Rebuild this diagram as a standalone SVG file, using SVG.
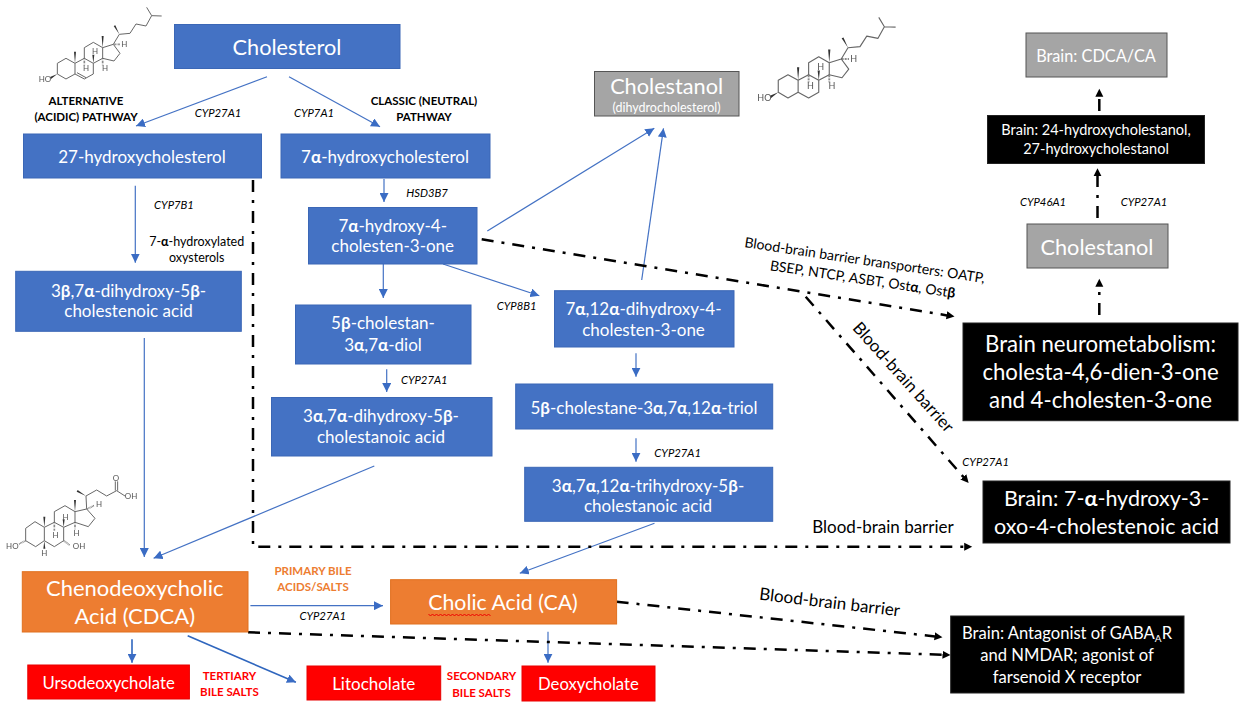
<svg xmlns="http://www.w3.org/2000/svg" xmlns:xlink="http://www.w3.org/1999/xlink" width="1248" height="706" viewBox="0 0 1248 706">
<style>
text{font-family:"Lato","Noto Sans",sans-serif;text-anchor:middle}
.w{fill:#fff}
.k{fill:#000}
.b{fill:#4472C4;stroke:#3B67B6;stroke-width:1}
.o{fill:#ED7D31;stroke:#E0701F;stroke-width:1}
.r{fill:#FF0000;stroke:#E80000;stroke-width:1}
.n{fill:#000;stroke:#222;stroke-width:1}
.g{fill:#A5A5A5;stroke:#555;stroke-width:1}
.m{font-size:17px}
.l{font-size:21.700px}
.e{font-size:11.300px;font-style:italic}
.h{font-size:11.500px;font-weight:700}
.t{font-size:12.500px}
.tr{font-size:14px}
.bb{font-size:17px}
.x{font-size:22px}
.y{font-size:21.500px}
.z{font-size:16.600px}
.gr{font-weight:700}
.bl{fill:none;stroke:#4472C4;stroke-width:1.2}
.bt{fill:none;stroke:#2F66BE;stroke-width:1.6}
.dd{fill:none;stroke:#000;stroke-width:2.500;stroke-dasharray:12 8 3 8}
.mol{fill:none;stroke:#666;stroke-width:3;stroke-linejoin:round}
.mt{font-size:24px;fill:#555}
.wd{fill:#333;stroke:none}
.hs{stroke:#666;stroke-width:5;stroke-dasharray:2 2;fill:none}
.soft{filter:url(#soft)}
</style>
<defs>
<filter id="soft" x="-5%" y="-5%" width="110%" height="110%"><feGaussianBlur stdDeviation="0.800"/></filter>
<marker id="ab" markerUnits="userSpaceOnUse" markerWidth="10" markerHeight="9" refX="9" refY="4.500" orient="auto"><path d="M0 0L9 4.500L0 9Z" fill="#3A6CC4"/></marker>
<marker id="ak" markerUnits="userSpaceOnUse" markerWidth="10" markerHeight="9" refX="0.500" refY="4.500" orient="auto"><path d="M0 0.500L8 4.500L0 8.500Z" fill="#000"/></marker>
<g id="steroid">
<path class="mol" d="M82 190L108 175L135 190L135 222L108 237L82 222ZM135 190L163 175L190 190L190 222L163 237L135 222M163 175L163 143L190 127L218 143L218 175L190 190M218 143L250 133L270 160L252 183L218 175M250 133L268 103L300 100L318 72L348 78L365 47L395 48M365 47L350 22"/>
<path class="wd" d="M135 190L132 155L138 155ZM218 143L215 108L221 108ZM82 222L60 231L63 237ZM190 190L187 164L193 164ZM268 103L256 76L251 78Z"/>
<path class="hs" d="M163 175V196M218 175V196M252 133H272"/>
<text class="mt" x="45" y="246">HO</text>
<text class="mt" x="283" y="140">H</text>
<text class="mt" x="195" y="163">H</text>
<text class="mt" x="168" y="214">H</text>
<text class="mt" x="225" y="214">H</text>
</g>
</defs>

<g id="connectors">
<path class="bl" marker-end="url(#ab)" d="M267 76.700L136 126"/>
<path class="bl" marker-end="url(#ab)" d="M289 76.700L380 126.700"/>
<path class="bl" marker-end="url(#ab)" d="M135.300 185.700V262.700"/>
<path class="bl" marker-end="url(#ab)" d="M384 179V202"/>
<path class="bl" marker-end="url(#ab)" d="M383.300 264V298"/>
<path class="bl" marker-end="url(#ab)" d="M386.700 369.300V392"/>
<path class="bl" marker-end="url(#ab)" d="M443 264L539.300 295.700"/>
<path class="bl" marker-end="url(#ab)" d="M636 353.300V376.700"/>
<path class="bl" marker-end="url(#ab)" d="M636 438.300V461.700"/>
<path class="bl" marker-end="url(#ab)" d="M374.300 466L153.600 558.300"/>
<path class="bl" marker-end="url(#ab)" d="M144.300 338V557"/>
<path class="bl" marker-end="url(#ab)" d="M654.500 523.300L519.800 573.300"/>
<path class="bl" marker-end="url(#ab)" d="M250.400 605.700H383"/>
<path class="bt" marker-end="url(#ab)" d="M132 639.300V662.700"/>
<path class="bt" marker-end="url(#ab)" d="M187.700 635.700L295.900 682.300"/>
<path class="bl" marker-end="url(#ab)" d="M548 631.700V662.700"/>
<path class="bl" marker-end="url(#ab)" d="M487.300 231L654.300 128.300"/>
<path class="bl" marker-end="url(#ab)" d="M641.700 280L663.500 128.300"/>
<path class="dd" marker-end="url(#ak)" d="M481.700 239.300L947.100 315.400"/>
<path class="dd" marker-end="url(#ak)" d="M805.700 296.700L963.700 477.300"/>
<path class="dd" marker-end="url(#ak)" d="M253 180V546.700H964.700"/>
<path class="dd" marker-end="url(#ak)" d="M616.600 601.700L935 636.400"/>
<path class="dd" marker-end="url(#ak)" d="M248 632.300L943 654.700"/>
<path class="dd" marker-end="url(#ak)" d="M1099.300 111V96.300"/>
<path class="dd" marker-end="url(#ak)" d="M1097.500 218V175.700"/>
<path class="dd" marker-end="url(#ak)" d="M1099.300 315V286.300"/>
</g>

<g id="mol-cholesterol" class="soft" transform="translate(30,0) scale(.3333)">
<use href="#steroid" xlink:href="#steroid"/>
<path class="mol" d="M141 218L168 233"/>
</g>
<g id="mol-cholestanol" class="soft" transform="translate(747.500,9.100) scale(.375)">
<use href="#steroid" xlink:href="#steroid"/>
</g>
<g id="mol-cdca" class="soft" transform="translate(5,470) scale(.3333)">
<path class="mol" d="M62 175L90 155L118 172L118 212L92 230L62 212ZM118 172L148 157L176 172L176 212L148 230L118 212M148 157L148 125L180 107L210 125L210 157L176 172M210 125L245 117L270 145L250 170L210 157M245 117L243 78L275 60L305 78L335 62L360 78M331 62V34M338 62V34"/>
<path class="wd" d="M118 172L115 140L121 140ZM210 125L207 90L213 90ZM176 172L173 148L179 148ZM118 212L115 236L121 236ZM243 78L218 60L215 65Z"/>
<path class="hs" d="M62 212L42 222M176 212L195 226M148 157V182M210 157V178M247 117L268 106"/>
<text class="mt" x="22" y="238">HO</text>
<text class="mt" x="222" y="238">OH</text>
<text class="mt" x="333" y="32">O</text>
<text class="mt" x="378" y="88">OH</text>
<text class="mt" x="282" y="111">H</text>
<text class="mt" x="182" y="150">H</text>
<text class="mt" x="152" y="203">H</text>
<text class="mt" x="215" y="198">H</text>
<text class="mt" x="118" y="258">H</text>
</g>

<g id="n-cholesterol"><rect class="b" x="174.500" y="24.500" width="225.500" height="44"/><text class="w l" x="287" y="55">Cholesterol</text></g>
<g id="n-27oh"><rect class="b" x="23.500" y="134" width="238" height="44"/><text class="w m" x="142" y="163">27-hydroxycholesterol</text></g>
<g id="n-7aoh"><rect class="b" x="281" y="134" width="209" height="44"/><text class="w m" x="385" y="163">7<tspan class="gr">α</tspan>-hydroxycholesterol</text></g>
<g id="n-7a4"><rect class="b" x="308.500" y="207.500" width="168.500" height="56.500"/><text class="w m" x="392.700" y="231.700">7<tspan class="gr">α</tspan>-hydroxy-4-</text><text class="w m" x="392.700" y="252.300">cholesten-3-one</text></g>
<g id="n-5bdiol"><rect class="b" x="295.500" y="305" width="175.500" height="59"/><text class="w m" x="383" y="329">5<tspan class="gr">β</tspan>-cholestan-</text><text class="w m" x="383" y="350.700">3<tspan class="gr">α</tspan>,7<tspan class="gr">α</tspan>-diol</text></g>
<g id="n-3a7a"><rect class="b" x="271.500" y="397.500" width="220.500" height="58.500"/><text class="w m" x="381" y="422">3<tspan class="gr">α</tspan>,7<tspan class="gr">α</tspan>-dihydroxy-5<tspan class="gr">β</tspan>-</text><text class="w m" x="381" y="443">cholestanoic acid</text></g>
<g id="n-3b7a"><rect class="b" x="15.700" y="271.300" width="225.600" height="60"/><text class="w m" x="128.500" y="296.700">3<tspan class="gr">β</tspan>,7<tspan class="gr">α</tspan>-dihydroxy-5<tspan class="gr">β</tspan>-</text><text class="w m" x="128.500" y="317">cholestenoic acid</text></g>
<g id="n-7a12a"><rect class="b" x="554.500" y="290.700" width="179.500" height="56.300"/><text class="w m" x="643.500" y="315">7<tspan class="gr">α</tspan>,12<tspan class="gr">α</tspan>-dihydroxy-4-</text><text class="w m" x="643.500" y="335.700">cholesten-3-one</text></g>
<g id="n-triol"><rect class="b" x="515.700" y="384" width="257" height="45"/><text class="w m" x="644" y="414">5<tspan class="gr">β</tspan>-cholestane-3<tspan class="gr">α</tspan>,7<tspan class="gr">α</tspan>,12<tspan class="gr">α</tspan>-triol</text></g>
<g id="n-3a7a12a"><rect class="b" x="524.700" y="467.300" width="248" height="54"/><text class="w m" x="648" y="491.700">3<tspan class="gr">α</tspan>,7<tspan class="gr">α</tspan>,12<tspan class="gr">α</tspan>-trihydroxy-5<tspan class="gr">β</tspan>-</text><text class="w m" x="648" y="511.700">cholestanoic acid</text></g>
<g id="n-cholestanol1"><rect class="g" x="594.500" y="71.500" width="144.500" height="44.500"/><text class="w l" x="666.600" y="94">Cholestanol</text><text class="w" style="font-size:12.500px" x="666.600" y="111.700">(dihydrocholesterol)</text></g>
<g id="n-cdca-ca-brain"><rect class="g" x="1026" y="33" width="141" height="44"/><text class="w" style="font-size:16.300px" x="1096" y="62.300">Brain: CDCA/CA</text></g>
<g id="n-24oh"><rect class="n" x="987.500" y="115.500" width="217" height="48"/><text class="w" style="font-size:14.500px" x="1096" y="135">Brain: 24-hydroxycholestanol,</text><text class="w" style="font-size:14.500px" x="1096" y="154.300">27-hydroxycholestanol</text></g>
<g id="n-cholestanol2"><rect class="g" x="1027" y="224" width="141" height="44"/><text class="w l" x="1097" y="255">Cholestanol</text></g>
<g id="n-neuro"><rect class="n" x="963" y="323" width="275" height="97.700"/><text class="w" style="font-size:22.200px" x="1100.500" y="352">Brain neurometabolism:</text><text class="w" style="font-size:22.200px" x="1100.500" y="379.500">cholesta-4,6-dien-3-one</text><text class="w" style="font-size:22.200px" x="1100.500" y="407.500">and 4-cholesten-3-one</text></g>
<g id="n-7aoxo"><rect class="n" x="983" y="481" width="247" height="62"/><text class="w y" x="1106.600" y="505.700">Brain: 7-<tspan class="gr">α</tspan>-hydroxy-3-</text><text class="w y" x="1106.600" y="534">oxo-4-cholestenoic acid</text></g>
<g id="n-antagonist"><rect class="n" x="950.700" y="616" width="233.300" height="77"/><text class="w z" x="1067" y="639">Brain: Antagonist of GABA<tspan style="font-size:10px" dy="3">A</tspan><tspan dy="-3">R</tspan></text><text class="w z" x="1067" y="660.700">and NMDAR; agonist of</text><text class="w z" x="1067" y="683">farsenoid X receptor</text></g>
<g id="n-cdca"><rect class="o" x="22.300" y="571.700" width="225.700" height="60.300"/><text class="w x" x="134.700" y="596">Chenodeoxycholic</text><text class="w x" x="134.700" y="624">Acid (CDCA)</text></g>
<g id="n-ca"><rect class="o" x="390.600" y="579.700" width="226" height="44.300"/><text class="w" style="font-size:21.300px" x="503" y="610">Cholic Acid (CA)</text><polyline points="428.500,614 430.500,616 432.500,614 434.500,616 436.500,614 438.500,616 440.500,614 442.500,616 444.500,614 446.500,616 448.500,614 450.500,616 452.500,614 454.500,616 456.500,614 458.500,616 460.500,614 462.500,616 464.500,614 466.500,616 468.500,614 470.500,616 472.500,614 474.500,616 476.500,614 478.500,616 480.500,614 482.500,616 484.500,614 486.500,616 488.500,614 490.500,616" fill="none" stroke="#E00" stroke-width="1"/></g>
<g id="n-urso"><rect class="r" x="27.800" y="665" width="161.600" height="34"/><text class="w" style="font-size:16.700px" x="108.600" y="689.300">Ursodeoxycholate</text></g>
<g id="n-lito"><rect class="r" x="307" y="666" width="133.700" height="34"/><text class="w m" x="373.700" y="690">Litocholate</text></g>
<g id="n-deoxy"><rect class="r" x="522" y="666" width="133" height="35"/><text class="w" style="font-size:16.700px" x="588.400" y="690">Deoxycholate</text></g>

<g id="labels">
<text class="k h" x="86" y="105">ALTERNATIVE</text><text class="k h" x="86" y="121">(ACIDIC) PATHWAY</text>
<text class="k h" x="424" y="105">CLASSIC (NEUTRAL)</text><text class="k h" x="424" y="121">PATHWAY</text>
<text class="k e" x="218" y="117">CYP27A1</text>
<text class="k e" x="314" y="117">CYP7A1</text>
<text class="k e" x="174" y="209">CYP7B1</text>
<text class="k t" x="196.700" y="246">7-<tspan class="gr">α</tspan>-hydroxylated</text><text class="k t" x="196.700" y="261.700">oxysterols</text>
<text class="k e" x="427" y="197">HSD3B7</text>
<text class="k e" x="516.700" y="310">CYP8B1</text>
<text class="k e" x="424.300" y="384">CYP27A1</text>
<text class="k e" x="677.700" y="457">CYP27A1</text>
<text class="k e" x="1043" y="206">CYP46A1</text>
<text class="k e" x="1144" y="206">CYP27A1</text>
<text class="k e" x="985.700" y="466">CYP27A1</text>
<text class="k e" x="322.800" y="620">CYP27A1</text>
<text class="k tr" transform="translate(864,265) rotate(8.500)" x="0" y="0">Blood-brain barrier bransporters: OATP,</text>
<text class="k tr" transform="translate(862,284) rotate(8.500)" x="0" y="0">BSEP, NTCP, ASBT, Ost<tspan class="gr">α</tspan>, Ost<tspan class="gr">β</tspan></text>
<text class="k bb" transform="translate(899,381) rotate(48)" x="0" y="0">Blood-brain barrier</text>
<text class="k bb" x="883" y="533">Blood-brain barrier</text>
<text class="k bb" transform="translate(829,608) rotate(6.800)" x="0" y="0">Blood-brain barrier</text>
<text class="h" fill="#ED7D31" x="313" y="575">PRIMARY BILE</text><text class="h" fill="#ED7D31" x="313" y="591">ACIDS/SALTS</text>
<text class="h" fill="#FF0000" x="229.400" y="680">TERTIARY</text><text class="h" fill="#FF0000" x="229.400" y="696">BILE SALTS</text>
<text class="h" fill="#FF0000" x="481.500" y="680">SECONDARY</text><text class="h" fill="#FF0000" x="481.500" y="696.500">BILE SALTS</text>
</g>
</svg>
